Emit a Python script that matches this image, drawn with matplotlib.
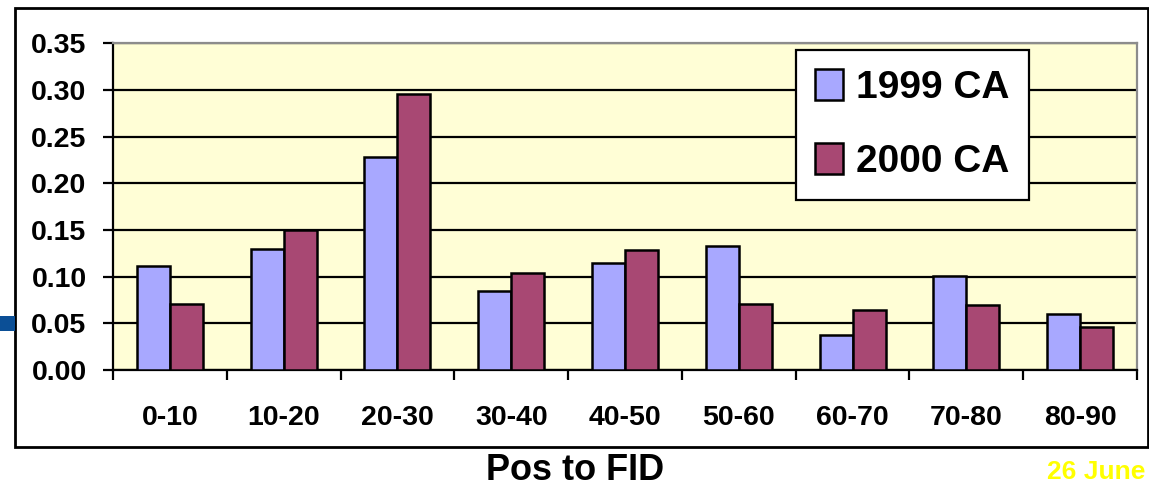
import matplotlib
matplotlib.use("Agg")
import matplotlib.pyplot as plt
import numpy as np
from matplotlib.patches import Rectangle, Patch

plt.rcParams['font.family'] = ['Liberation Sans', 'DejaVu Sans']
plt.rcParams['font.weight'] = 'bold'

categories = ["0-10", "10-20", "20-30", "30-40", "40-50", "50-60", "60-70", "70-80", "80-90"]
ca_1999 = [0.111, 0.130, 0.228, 0.085, 0.115, 0.133, 0.038, 0.101, 0.060]
ca_2000 = [0.071, 0.150, 0.296, 0.104, 0.129, 0.071, 0.064, 0.070, 0.046]
series_labels = ["1999 CA", "2000 CA"]
y_ticks = [0.00, 0.05, 0.10, 0.15, 0.20, 0.25, 0.30, 0.35]

col_1999 = "#A8A8FF"
col_2000 = "#A84873"

W, H = 1149, 488
fig = plt.figure(figsize=(W / 100, H / 100), dpi=100)
fig.patch.set_facecolor("white")

# outer chart frame
fig.patches.append(Rectangle((15 / W, 1 - 447 / H), (1148 - 15) / W, (447 - 8) / H,
                             transform=fig.transFigure, fill=False,
                             edgecolor="black", linewidth=2.0, zorder=0))
# small slide marker on the left edge
fig.patches.append(Rectangle((0, 1 - 331 / H), 15 / W, 15 / H,
                             transform=fig.transFigure, facecolor="#0B4F96",
                             edgecolor="none", zorder=0))

ax = fig.add_axes([113 / W, 1 - 370 / H, (1137 - 113) / W, (370 - 43.3) / H])
ax.set_facecolor("#FFFED6")

x = np.arange(len(categories))
bw = 0.29
ax.bar(x - bw / 2, ca_1999, width=bw, color=col_1999, edgecolor="black", linewidth=1.8, zorder=3)
ax.bar(x + bw / 2, ca_2000, width=bw, color=col_2000, edgecolor="black", linewidth=1.8, zorder=3)

ax.set_xlim(-0.5, len(categories) - 0.5)
ax.set_ylim(0, 0.35)
ax.set_yticks(y_ticks)
ax.set_yticklabels([f"{v:.2f}" for v in y_ticks], fontsize=20.5, fontweight="bold")
ax.yaxis.grid(True, color="black", linewidth=1.6, zorder=1)
ax.set_axisbelow(True)

ax.set_xticks(x)
ax.set_xticklabels(categories, fontsize=20.5, fontweight="bold")
ax.set_xticks(np.arange(len(categories) + 1) - 0.5, minor=True)
ax.tick_params(axis="x", which="major", length=0, pad=25)
ax.tick_params(axis="x", which="minor", length=7, width=1.6, direction="out", color="black")
ax.tick_params(axis="y", which="major", length=7, width=1.6, direction="out", pad=12)

ax.spines["left"].set_color("black")
ax.spines["left"].set_linewidth(1.6)
ax.spines["bottom"].set_color("black")
ax.spines["bottom"].set_linewidth(1.6)
ax.spines["top"].set_color("#8C8C8C")
ax.spines["top"].set_linewidth(1.6)
ax.spines["right"].set_color("#8C8C8C")
ax.spines["right"].set_linewidth(1.6)

handles = [Patch(facecolor=col_1999, edgecolor="black", linewidth=1.8),
           Patch(facecolor=col_2000, edgecolor="black", linewidth=1.8)]
leg = ax.legend(handles, series_labels, loc="upper left", bbox_to_anchor=(0.667, 0.9795),
                prop={"size": 28, "weight": "bold"}, frameon=True, fancybox=False,
                borderaxespad=0, handlelength=0.7, handleheight=0.85,
                handletextpad=0.35, labelspacing=0.95, borderpad=0.5)
leg.get_frame().set_edgecolor("black")
leg.get_frame().set_linewidth(1.6)
leg.get_frame().set_facecolor("white")
leg.get_frame().set_alpha(1)
leg.set_zorder(5)

fig.text(575 / W, 1 - 471 / H, "Pos to FID", ha="center", va="center",
         fontsize=26, fontweight="bold")
fig.text(1145 / W, 1 - 472 / H, "26 June", ha="right", va="center",
         fontsize=19, fontweight="bold", color="#FFFF00")

fig.savefig("out.png", dpi=100)
